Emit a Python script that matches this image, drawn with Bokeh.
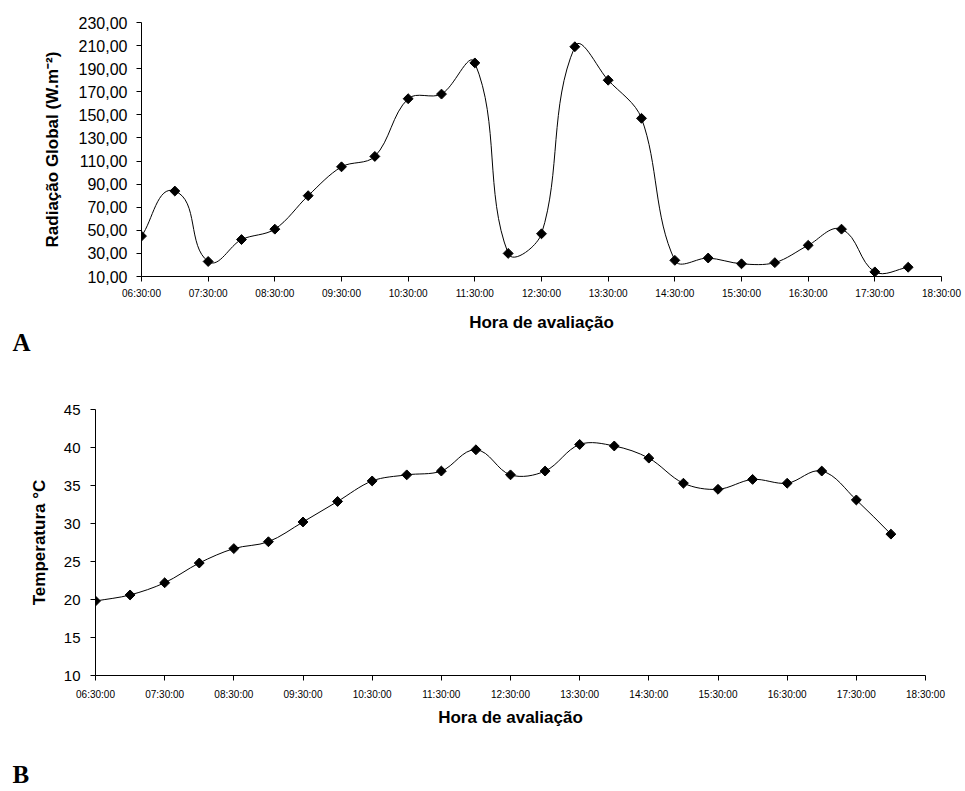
import math
from bokeh.plotting import figure
from bokeh.models import FixedTicker, Title, ColumnDataSource
from bokeh.embed import file_html
from bokeh.resources import INLINE

# ---------------- data ----------------
horas = ["06:30", "07:00", "07:30", "08:00", "08:30", "09:00", "09:30", "10:00",
         "10:30", "11:00", "11:30", "12:00", "12:30", "13:00", "13:30", "14:00",
         "14:30", "15:00", "15:30", "16:00", "16:30", "17:00", "17:30", "18:00"]

radiacao = [45, 84, 23, 42, 51, 80, 105, 114, 164, 168, 195, 30,
            47, 209, 180, 147, 24, 26, 21, 22, 37, 51, 14, 18]

temperatura = [19.8, 20.6, 22.2, 24.8, 26.7, 27.6, 30.2, 32.9, 35.6, 36.4, 36.9, 39.7,
               36.4, 36.9, 40.4, 40.2, 38.6, 35.3, 34.5, 35.8, 35.3, 36.9, 33.1, 28.6]

x_tick_labels = ["06:30:00", "07:30:00", "08:30:00", "09:30:00", "10:30:00", "11:30:00",
                 "12:30:00", "13:30:00", "14:30:00", "15:30:00", "16:30:00", "17:30:00",
                 "18:30:00"]

y_ticks_a = [10, 30, 50, 70, 90, 110, 130, 150, 170, 190, 210, 230]
y_ticks_b = [10, 15, 20, 25, 30, 35, 40, 45]


def to_hours(s):
    parts = s.split(":")
    return int(parts[0]) + int(parts[1]) / 60.0


x_vals = [to_hours(h) for h in horas]
x_ticks = [to_hours(t) for t in x_tick_labels]


def smooth_segments(xs, ys, sx, sy, t=1.0 / 3.0):
    """Bezier control points for a smoothed line (arm lengths scaled by segment length in px)."""
    n = len(xs)
    px = [x * sx for x in xs]
    py = [y * sy for y in ys]

    def tangent(i):
        a = max(i - 1, 0)
        b = min(i + 1, n - 1)
        dx, dy = px[b] - px[a], py[b] - py[a]
        L = math.hypot(dx, dy) or 1.0
        return dx / L, dy / L

    d = dict(x0=[], y0=[], x1=[], y1=[], cx0=[], cy0=[], cx1=[], cy1=[])
    for i in range(n - 1):
        seg = math.hypot(px[i + 1] - px[i], py[i + 1] - py[i])
        t0x, t0y = tangent(i)
        t1x, t1y = tangent(i + 1)
        arm = seg * t
        d["x0"].append(xs[i]); d["y0"].append(ys[i])
        d["x1"].append(xs[i + 1]); d["y1"].append(ys[i + 1])
        d["cx0"].append((px[i] + t0x * arm) / sx)
        d["cy0"].append((py[i] + t0y * arm) / sy)
        d["cx1"].append((px[i + 1] - t1x * arm) / sx)
        d["cy1"].append((py[i + 1] - t1y * arm) / sy)
    return d


FONT = "Liberation Sans"
LETTER_FONT = "Liberation Serif"


def style(p, ytick_size, ylabel_standoff, ytick_standoff, xtick_standoff, xlabel_standoff):
    p.xgrid.visible = False
    p.ygrid.visible = False
    p.outline_line_color = None
    p.background_fill_color = "white"
    p.border_fill_color = "white"
    for ax in (p.xaxis[0], p.yaxis[0]):
        ax.axis_line_color = "black"
        ax.axis_line_width = 1
        ax.major_tick_line_color = "black"
        ax.major_tick_in = 0
        ax.major_tick_out = 5
        ax.minor_tick_line_color = None
        ax.major_label_text_color = "black"
        ax.major_label_text_font = FONT
        ax.axis_label_text_font = FONT
        ax.axis_label_text_font_style = "bold"
        ax.axis_label_text_font_size = "17px"
        ax.axis_label_text_color = "black"
    p.xaxis[0].ticker = FixedTicker(ticks=x_ticks)
    p.xaxis[0].major_label_overrides = {t: l for t, l in zip(x_ticks, x_tick_labels)}
    p.xaxis[0].major_label_text_font_size = "10px"
    p.xaxis[0].major_label_standoff = xtick_standoff
    p.xaxis[0].axis_label_standoff = xlabel_standoff
    p.yaxis[0].major_label_text_font_size = ytick_size
    p.yaxis[0].major_label_standoff = ytick_standoff
    p.yaxis[0].axis_label_standoff = ylabel_standoff


def panel_letter(p, text, left, frame_left, standoff):
    p.add_layout(Title(text=text, align="left", offset=left - frame_left,
                       text_font=LETTER_FONT, text_font_size="25px",
                       text_font_style="bold", text_color="black",
                       vertical_align="bottom", standoff=standoff), "below")


# ---------------- chart A ----------------
A_LEFT, A_RIGHT, A_TOP, A_H, A_BOTTOM_Y = 141, 24, 22, 365, 276
pa = figure(width=965, height=A_H, output_backend="svg", toolbar_location=None,
            x_range=(6.5, 18.5), y_range=(10, 230),
            min_border_left=A_LEFT, min_border_right=A_RIGHT, min_border_top=A_TOP,
            min_border_bottom=A_H - A_BOTTOM_Y)
style(pa, "16px", 14, 9, 6, 11)
pa.xaxis[0].axis_label = "Hora de avaliação"
pa.yaxis[0].axis_label = "Radiação Global (W.m⁻²)"
pa.yaxis[0].ticker = FixedTicker(ticks=y_ticks_a)
pa.yaxis[0].major_label_overrides = {v: f"{v:.2f}".replace(".", ",") for v in y_ticks_a}

sx_a = (965 - A_LEFT - A_RIGHT) / 12.0
sy_a = (A_BOTTOM_Y - A_TOP) / 220.0
seg_a = ColumnDataSource(smooth_segments(x_vals, radiacao, sx_a, sy_a))
pa.bezier(x0="x0", y0="y0", x1="x1", y1="y1", cx0="cx0", cy0="cy0", cx1="cx1", cy1="cy1",
          source=seg_a, line_color="black", line_width=1)
pa.scatter(x_vals, radiacao, marker="square", size=7, angle=math.pi / 4,
           fill_color="black", line_color="black")
panel_letter(pa, "A", 12, A_LEFT, -16)

# ---------------- chart B ----------------
B_LEFT, B_RIGHT, B_TOP, B_H, B_BOTTOM_Y = 95, 40, 44, 426, 310
pb = figure(width=965, height=B_H, output_backend="svg", toolbar_location=None,
            x_range=(6.5, 18.5), y_range=(10, 45),
            min_border_left=B_LEFT, min_border_right=B_RIGHT, min_border_top=B_TOP,
            min_border_bottom=B_H - B_BOTTOM_Y)
style(pb, "15px", 12, 10, 8, 5)
pb.xaxis[0].axis_label = "Hora de avaliação"
pb.yaxis[0].axis_label = "Temperatura °C"
pb.yaxis[0].ticker = FixedTicker(ticks=y_ticks_b)

sx_b = (965 - B_LEFT - B_RIGHT) / 12.0
sy_b = (B_BOTTOM_Y - B_TOP) / 35.0
seg_b = ColumnDataSource(smooth_segments(x_vals, temperatura, sx_b, sy_b))
pb.bezier(x0="x0", y0="y0", x1="x1", y1="y1", cx0="cx0", cy0="cy0", cx1="cx1", cy1="cy1",
          source=seg_b, line_color="black", line_width=1)
pb.scatter(x_vals, temperatura, marker="square", size=7, angle=math.pi / 4,
           fill_color="black", line_color="black")
# blank spacer panel between the axis title and the letter "B"
pb.add_layout(Title(text=" ", text_font=LETTER_FONT, text_font_size="25px",
                    standoff=0), "below")
panel_letter(pb, "B", 12, B_LEFT, 0)

open("out.html", "w").write(file_html([pa, pb], INLINE))
